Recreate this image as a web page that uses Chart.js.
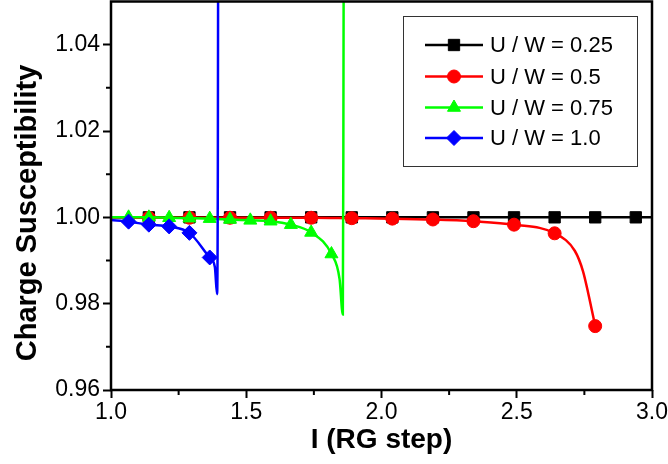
<!DOCTYPE html>
<html>
<head>
<meta charset="utf-8">
<script src="https://cdn.jsdelivr.net/npm/chart.js@4.4.1/dist/chart.umd.min.js"></script>
<style>
  html, body { margin: 0; padding: 0; background: #fff; }
  #wrap { width: 668px; height: 464px; }
</style>
</head>
<body>
<div id="wrap"><canvas id="chart"></canvas></div>
<script>
// Series labels
const labels = ['U / W = 0.25', 'U / W = 0.5', 'U / W = 0.75', 'U / W = 1.0'];

// U/W = 0.25 (marked points)
const stepsA = [1.14, 1.29, 1.44, 1.59, 1.74, 1.89, 2.04, 2.19, 2.34, 2.49, 2.64, 2.79, 2.94];
const chiA = [1.0, 1.0, 1.0, 1.0, 1.0, 1.0, 1.0, 1.0, 1.0, 1.0, 1.0, 1.0, 1.0];
// extra points on the curve (no marker)
const curveA = [[1.0, 1.0], [3.0, 1.0]];

// U/W = 0.5
const stepsB = [1.14, 1.29, 1.44, 1.59, 1.74, 1.89, 2.04, 2.19, 2.34, 2.49, 2.64, 2.79];
const chiB = [0.9999, 0.9999, 0.9999, 0.9999, 0.9999, 0.9998, 0.9997, 0.9995, 0.9991, 0.9983, 0.9963, 0.9748];
const curveB = [[1.0, 1.0], [2.715, 0.9922], [2.745, 0.9875], [2.765, 0.9822]];

// U/W = 0.75
const stepsC = [1.065, 1.14, 1.215, 1.29, 1.365, 1.44, 1.515, 1.59, 1.665, 1.74, 1.815];
const chiC = [1.0, 1.0, 0.9999, 0.9998, 0.9997, 0.9995, 0.9993, 0.9991, 0.9983, 0.9965, 0.9915];
const curveC = [[1.0, 1.0], [1.845, 0.9857], [1.857, 0.9775], [1.859, 1.016], [1.864, 1.2]];

// U/W = 1.0
const stepsD = [1.065, 1.14, 1.215, 1.29, 1.365];
const chiD = [0.9990, 0.9983, 0.9979, 0.9964, 0.9907];
const curveD = [[1.0, 0.9994], [1.384, 0.9885], [1.392, 0.9822], [1.395, 1.0125], [1.399, 1.2]];

// axis ticks
const xTicks = [1.0, 1.5, 2.0, 2.5, 3.0];
const xMinor = [1.25, 1.75, 2.25, 2.75];
const yTicks = [0.96, 0.98, 1.00, 1.02, 1.04];
const yMinor = [0.97, 0.99, 1.01, 1.03];

const yTitle = 'Charge Susceptibility';
const xTitle = 'I (RG step)';

const colors = ['#000000', '#ff0000', '#00ff00', '#0000ff'];
const styles = ['rect', 'circle', 'triangle', 'rectRot'];
const radii = [8, 6.5, 7.5, 7.5];
const fontFam = '"Liberation Sans", Arial, sans-serif';

// merge marked points and plain curve points, sorted by x
function buildData(steps, chi, curve) {
  const pts = steps.map((s, i) => ({ x: s, y: chi[i], m: true }));
  curve.forEach(p => pts.push({ x: p[0], y: p[1], m: false }));
  return pts.sort((a, b) => a.x - b.x);
}

const series = [
  buildData(stepsA, chiA, curveA),
  buildData(stepsB, chiB, curveB),
  buildData(stepsC, chiC, curveC),
  buildData(stepsD, chiD, curveD)
];

const datasets = series.map((data, i) => ({
  label: labels[i],
  data: data,
  borderColor: colors[i],
  backgroundColor: colors[i],
  borderWidth: 2.5,
  pointStyle: styles[i],
  pointRadius: ctx => (ctx.raw && ctx.raw.m ? radii[i] : 0),
  pointBorderWidth: 1,
  cubicInterpolationMode: 'monotone',
  order: 4 - i,
  clip: 0
}));

// frame, minor ticks, y title and legend box
const extrasPlugin = {
  id: 'extras',
  afterDraw(chart) {
    const { ctx, chartArea: a, scales: { x, y } } = chart;
    ctx.save();
    ctx.strokeStyle = '#000';
    ctx.lineWidth = 2;
    ctx.beginPath();
    xMinor.forEach(v => {
      const px = x.getPixelForValue(v);
      ctx.moveTo(px, a.bottom);
      ctx.lineTo(px, a.bottom + 5);
    });
    yMinor.forEach(v => {
      const py = y.getPixelForValue(v);
      ctx.moveTo(a.left, py);
      ctx.lineTo(a.left - 5, py);
    });
    ctx.stroke();

    ctx.lineWidth = 2.5;
    ctx.strokeRect(a.left, a.top, a.right - a.left, a.bottom - a.top);

    // y axis title, sits a bit below the middle like the original
    ctx.save();
    ctx.translate(28, 213);
    ctx.rotate(-Math.PI / 2);
    ctx.font = 'bold 29px ' + fontFam;
    ctx.fillStyle = '#000';
    ctx.textAlign = 'center';
    ctx.textBaseline = 'middle';
    ctx.fillText(yTitle, 0, 0);
    ctx.restore();

    // legend
    ctx.fillStyle = '#fff';
    ctx.fillRect(403, 17, 234, 150);
    ctx.lineWidth = 1;
    ctx.strokeStyle = '#333';
    ctx.strokeRect(403.5, 16.5, 234, 150);
    const rows = [45, 76.5, 107.5, 138];
    ctx.font = '22px ' + fontFam;
    ctx.textBaseline = 'middle';
    labels.forEach((lab, i) => {
      const ry = rows[i];
      ctx.strokeStyle = colors[i];
      ctx.fillStyle = colors[i];
      ctx.lineWidth = 2.5;
      ctx.beginPath();
      ctx.moveTo(425, ry);
      ctx.lineTo(483, ry);
      ctx.stroke();
      ctx.lineWidth = 1;
      Chart.helpers.drawPoint(ctx, { pointStyle: styles[i], radius: radii[i], rotation: 0, borderWidth: 1 }, 454, ry);
      ctx.fillStyle = '#000';
      ctx.fillText(lab, 490, ry + 1);
    });
    ctx.restore();
  }
};

const tickFont = { family: fontFam, size: 23 };
const titleFont = { family: fontFam, size: 28, weight: 'bold' };

new Chart(document.getElementById('chart'), {
  type: 'line',
  data: { datasets: datasets },
  options: {
    responsive: true,
    maintainAspectRatio: false,
    animation: false,
    events: [],
    layout: { autoPadding: false, padding: { top: 1.5, right: 16, left: 0, bottom: 0 } },
    plugins: {
      legend: { display: false },
      tooltip: { enabled: false }
    },
    scales: {
      x: {
        type: 'linear',
        min: 1.0,
        max: 3.0,
        afterBuildTicks: s => { s.ticks = xTicks.map(v => ({ value: v })); },
        afterFit: s => { s.height = 74; s.paddingLeft = 0; s.paddingRight = 0; },
        border: { display: false },
        grid: { drawOnChartArea: false, drawTicks: true, tickLength: 8, tickWidth: 2, tickColor: '#000', color: '#000' },
        ticks: { color: '#000', font: tickFont, padding: 1, maxRotation: 0, callback: v => Number(v).toFixed(1) },
        title: { display: true, text: xTitle, color: '#000', font: titleFont, padding: { top: 0, bottom: 7 } }
      },
      y: {
        type: 'linear',
        min: 0.96,
        max: 1.05,
        afterBuildTicks: s => { s.ticks = yTicks.map(v => ({ value: v })); },
        afterFit: s => { s.width = 111; s.paddingTop = 0; s.paddingBottom = 0; },
        border: { display: false },
        grid: { drawOnChartArea: false, drawTicks: true, tickLength: 8, tickWidth: 2, tickColor: '#000', color: '#000' },
        ticks: { color: '#000', font: tickFont, padding: 3, callback: v => Number(v).toFixed(2) },
        title: { display: false }
      }
    }
  },
  plugins: [extrasPlugin]
});
</script>
</body>
</html>
